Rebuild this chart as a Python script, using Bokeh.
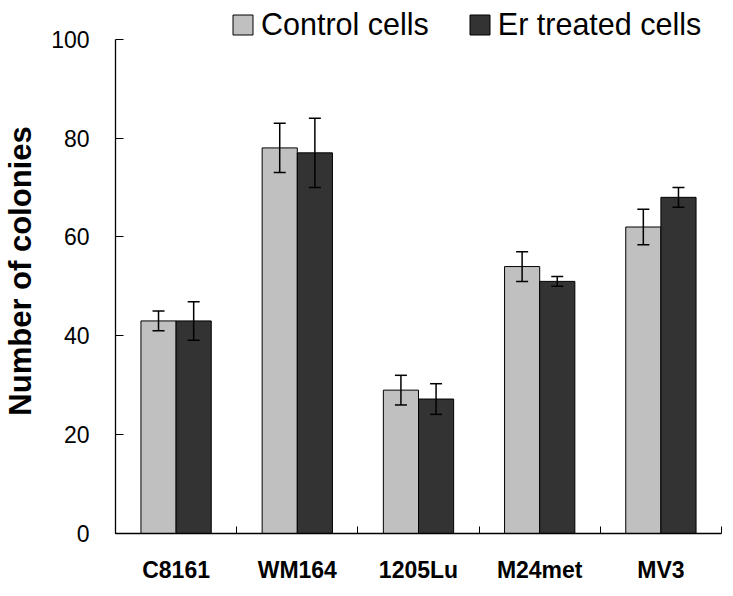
import numpy as np
from bokeh.plotting import figure
from bokeh.models import (ColumnDataSource, FixedTicker, Whisker, TeeHead, Legend, LegendItem, Range1d)
from bokeh.embed import file_html
from bokeh.resources import INLINE

categories = ["C8161", "WM164", "1205Lu", "M24met", "MV3"]
control = [43, 78, 29, 54, 62]
control_err = [2, 5, 3, 3, 3.6]
treated = [43, 77, 27.2, 51, 68]
treated_err = [3.9, 7, 3.1, 1, 2]
series_names = ["Control cells", "Er treated cells"]
y_ticks = [0, 20, 40, 60, 80, 100]

FONT = "Liberation Sans"
bar_w = 0.29
centers = np.arange(len(categories)) + 0.5

src_c = ColumnDataSource(dict(
    x=centers - bar_w / 2, top=control,
    upper=np.array(control) + np.array(control_err),
    lower=np.array(control) - np.array(control_err)))
src_t = ColumnDataSource(dict(
    x=centers + bar_w / 2, top=treated,
    upper=np.array(treated) + np.array(treated_err),
    lower=np.array(treated) - np.array(treated_err)))

p = figure(width=723, height=585, output_backend="svg", toolbar_location=None,
           x_range=Range1d(0, len(categories)), y_range=Range1d(0, 106.2),
           min_border_left=111, min_border_right=2, min_border_top=8, min_border_bottom=50)
p.outline_line_color = None
p.grid.visible = False
p.background_fill_color = "white"

r1 = p.vbar(x="x", top="top", width=bar_w, source=src_c, fill_color="#c0c0c0",
            line_color="black", line_width=1)
r2 = p.vbar(x="x", top="top", width=bar_w, source=src_t, fill_color="#333333",
            line_color="black", line_width=1)

for src in (src_c, src_t):
    w = Whisker(base="x", upper="upper", lower="lower", source=src, dimension="height",
                line_color="black", line_width=1.5, level="overlay",
                upper_head=TeeHead(size=12, line_color="black", line_width=1.5),
                lower_head=TeeHead(size=12, line_color="black", line_width=1.5))
    p.add_layout(w)

# x axis
p.xaxis.ticker = FixedTicker(ticks=list(centers), minor_ticks=list(range(len(categories) + 1)))
p.xaxis.major_label_overrides = {float(c): n for c, n in zip(centers, categories)}
p.xaxis.major_tick_in = 0
p.xaxis.major_tick_out = 0
p.xaxis.minor_tick_in = 7
p.xaxis.minor_tick_out = 0
p.xaxis.minor_tick_line_color = "black"
p.xaxis.axis_line_color = "black"
p.xaxis.axis_line_width = 1.3
p.xaxis.major_label_standoff = 23
p.xaxis.major_label_text_font = FONT
p.xaxis.major_label_text_font_style = "bold"
p.xaxis.major_label_text_font_size = "23px"
p.xaxis.major_label_text_color = "black"

# y axis
p.yaxis.ticker = FixedTicker(ticks=y_ticks)
p.yaxis.bounds = (0, 100)
p.yaxis.minor_tick_line_color = None
p.yaxis.major_tick_in = 8
p.yaxis.major_tick_out = 0
p.yaxis.axis_line_width = 1.3
p.yaxis.major_label_standoff = 26
p.yaxis.major_label_text_font = FONT
p.yaxis.major_label_text_font_size = "23px"
p.yaxis.major_label_text_color = "black"
p.yaxis.axis_label = "Number of colonies"
p.yaxis.axis_label_text_font = FONT
p.yaxis.axis_label_text_font_style = "bold"
p.yaxis.axis_label_text_font_size = "31px"
p.yaxis.axis_label_text_color = "black"
p.yaxis.axis_label_standoff = 10

legend = Legend(items=[LegendItem(label=series_names[0], renderers=[r1]),
                       LegendItem(label=series_names[1], renderers=[r2])],
                orientation="horizontal", location=(115, 491),
                glyph_width=25, glyph_height=25, label_standoff=6, spacing=38,
                label_text_font=FONT, label_text_font_size="30.5px",
                label_text_color="black", border_line_color=None,
                background_fill_alpha=0, padding=0, margin=0)
p.add_layout(legend, "center")

open("out.html", "w").write(file_html(p, INLINE))
